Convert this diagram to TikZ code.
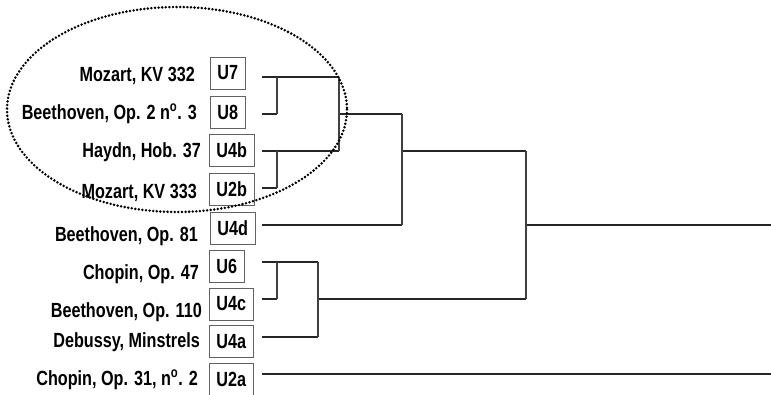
\documentclass[tikz,border=0pt]{standalone}
\usepackage{fontspec}
\usepackage{graphicx}
\setmainfont{Liberation Sans}
\newcommand{\nar}[1]{\scalebox{0.79}[1]{#1}}
\tikzset{
  lbl/.style={anchor=base east, inner sep=0pt, font=\fontsize{20.5}{20.5}\selectfont\bfseries},
  ubox/.style={draw=black!62, line width=0.8pt, anchor=west, minimum height=32pt, inner xsep=7pt, inner ysep=0pt, font=\fontsize{20.5}{20.5}\selectfont\bfseries},
  dend/.style={draw=black!85, line width=1.8pt},
  dendv/.style={draw=black!75, line width=1.3pt},
  grp/.style={draw=black, line width=2.8pt, line cap=round, dash pattern=on 0pt off 3.6pt}
}
\begin{document}
\begin{tikzpicture}[x=1pt,y=-1pt]
\useasboundingbox (0,0) rectangle (771,394);
% labels
\node[lbl] (l7) at (195,81) {\nar{Mozart, KV 332}};
\node[lbl] (l8) at (197,119) {\nar{Beethoven, Op. 2 n\textsuperscript{o}. 3}};
\node[lbl] (l4b) at (201,157) {\nar{Haydn, Hob. 37}};
\node[lbl] (l2b) at (197,198) {\nar{Mozart, KV 333}};
\node[lbl] (l4d) at (198,241) {\nar{Beethoven, Op. 81}};
\node[lbl] (l6) at (199,279) {\nar{Chopin, Op. 47}};
\node[lbl] (l4c) at (202,317) {\nar{Beethoven, Op. 110}};
\node[lbl] (l4a) at (200,347) {\nar{Debussy, Minstrels}};
\node[lbl] (l2a) at (198,385) {\nar{Chopin, Op. 31, n\textsuperscript{o}. 2}};
% boxes
\node[ubox] (b7) at (210,73) {\nar{U7}};
\node[ubox] (b8) at (210,112) {\nar{U8}};
\node[ubox] (b4b) at (209,150) {\nar{U4b}};
\node[ubox] (b2b) at (209,189.5) {\nar{U2b}};
\node[ubox] (b4d) at (210,228) {\nar{U4d}};
\node[ubox] (b6) at (209,266) {\nar{U6}};
\node[ubox] (b4c) at (209,304) {\nar{U4c}};
\node[ubox] (b4a) at (209,341.5) {\nar{U4a}};
\node[ubox] (b2a) at (209,379) {\nar{U2a}};
% leaf line starts
\coordinate (s7) at (262,77);
\coordinate (s8) at (262,114);
\coordinate (s4b) at (262,151);
\coordinate (s2b) at (262,188);
\coordinate (s4d) at (262,225);
\coordinate (s6) at (262,262);
\coordinate (s4c) at (262,299);
\coordinate (s4a) at (262,337);
\coordinate (s2a) at (262,374);
% merge points
\coordinate (m78) at (277,77);
\coordinate (m8) at (277,114);
\coordinate (mb) at (277,151);
\coordinate (m2b) at (277,188);
\coordinate (a1) at (339,77);
\coordinate (a2) at (339,151);
\coordinate (a3) at (339,114);
\coordinate (c1) at (402,114);
\coordinate (c2) at (402,225);
\coordinate (c3) at (402,151);
\coordinate (m6) at (277,262);
\coordinate (m4c) at (277,299);
\coordinate (d1) at (318,262);
\coordinate (d2) at (318,337);
\coordinate (d3) at (318,299);
\coordinate (e1) at (526,151);
\coordinate (e2) at (526,299);
\coordinate (e3) at (526,225);
\coordinate (end1) at (771,225);
\coordinate (end2) at (771,374);
% horizontal lines
\draw[dend] (s7) -- (a1);
\draw[dend] (s8) -- (m8);
\draw[dend] (s4b) -- (a2);
\draw[dend] (s2b) -- (m2b);
\draw[dend] (a3) -- (c1);
\draw[dend] (s4d) -- (c2);
\draw[dend] (c3) -- (e1);
\draw[dend] (s6) -- (d1);
\draw[dend] (s4c) -- (m4c);
\draw[dend] (s4a) -- (d2);
\draw[dend] (d3) -- (e2);
\draw[dend] (e3) -- (end1);
\draw[dend] (s2a) -- (end2);
% vertical lines
\draw[dendv] (m78) -- (m8);
\draw[dendv] (mb) -- (m2b);
\draw[dendv] (a1) -- (a2);
\draw[dendv] (c1) -- (c2);
\draw[dendv] (m6) -- (m4c);
\draw[dendv] (d1) -- (d2);
\draw[dendv] (e1) -- (e2);
% dotted group ellipse
\draw[grp] (177,109.5) ellipse [x radius=170, y radius=102.5];
\end{tikzpicture}
\end{document}
